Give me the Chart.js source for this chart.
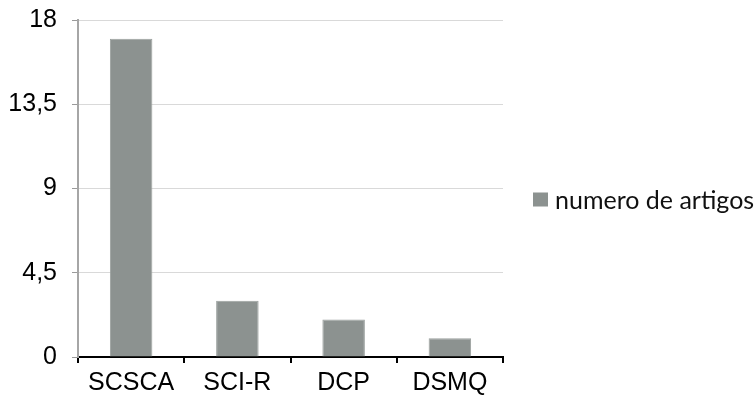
<!DOCTYPE html>
<html>
<head>
<meta charset="utf-8">
<script src="https://cdn.jsdelivr.net/npm/chart.js@4.4.1/dist/chart.umd.min.js"></script>
<style>
  html, body { margin: 0; padding: 0; background: #fff; }
  #wrap { width: 755px; height: 399px; position: relative; }
</style>
</head>
<body>
<div id="wrap"><canvas id="c"></canvas></div>
<script>
// Article counts per source
const categories = ['SCSCA', 'SCI-R', 'DCP', 'DSMQ'];
const artigos = [17, 3, 2, 1];
const seriesName = 'numero de artigos';
const yTickValues = [0, 4.5, 9, 13.5, 18];
const yTickLabels = ['0', '4,5', '9', '13,5', '18'];

const BAR = '#8c9290';

// Legend drawn to the right of the plot
const sideLegend = {
  id: 'sideLegend',
  afterDraw(chart) {
    const ctx = chart.ctx;
    const ds = chart.data.datasets[0];
    const x = chart.chartArea.right + 30;
    const y = chart.height / 2;
    ctx.save();
    ctx.fillStyle = ds.backgroundColor;
    ctx.fillRect(x, y - 7, 15, 14);
    ctx.fillStyle = '#111';
    ctx.font = '25px Lato';
    ctx.textBaseline = 'middle';
    ctx.fillText(ds.label, x + 22, y + 1);
    ctx.restore();
  }
};

new Chart(document.getElementById('c'), {
  type: 'bar',
  data: {
    labels: categories,
    datasets: [{
      label: seriesName,
      data: artigos,
      backgroundColor: BAR,
      borderColor: '#9aa09e',
      borderWidth: 1,
      barPercentage: 0.4,
      categoryPercentage: 1.0
    }]
  },
  options: {
    responsive: true,
    maintainAspectRatio: false,
    animation: false,
    layout: { padding: { top: 20, right: 252, bottom: 0, left: 0 } },
    plugins: { legend: { display: false }, tooltip: { enabled: false }, title: { display: false } },
    scales: {
      x: {
        offset: true,
        grid: {
          offset: true,
          drawOnChartArea: false,
          drawTicks: true,
          tickLength: 6,
          color: '#000',
          lineWidth: 2
        },
        border: { display: true, color: '#000', width: 2 },
        ticks: {
          color: '#000',
          font: { family: 'Liberation Sans', size: 25 },
          padding: 5,
          maxRotation: 0
        },
        afterFit(scale) { scale.height = 42; }
      },
      y: {
        min: 0,
        max: 18,
        afterBuildTicks(scale) {
          scale.ticks = yTickValues.map(v => ({ value: v }));
        },
        grid: {
          color: '#d9d9d9',
          lineWidth: 1,
          tickLength: 6,
          tickColor: '#9a9a9a'
        },
        border: { display: true, color: '#a6a6a6', width: 2 },
        ticks: {
          color: '#000',
          font: { family: 'Liberation Sans', size: 25 },
          padding: 15,
          callback(value) {
            const i = yTickValues.indexOf(value);
            return i >= 0 ? yTickLabels[i] : '';
          }
        },
        afterFit(scale) {
          scale.width = 78;
          scale.paddingTop = 0;
          scale.paddingBottom = 0;
        }
      }
    }
  },
  plugins: [sideLegend]
});
</script>
</body>
</html>
